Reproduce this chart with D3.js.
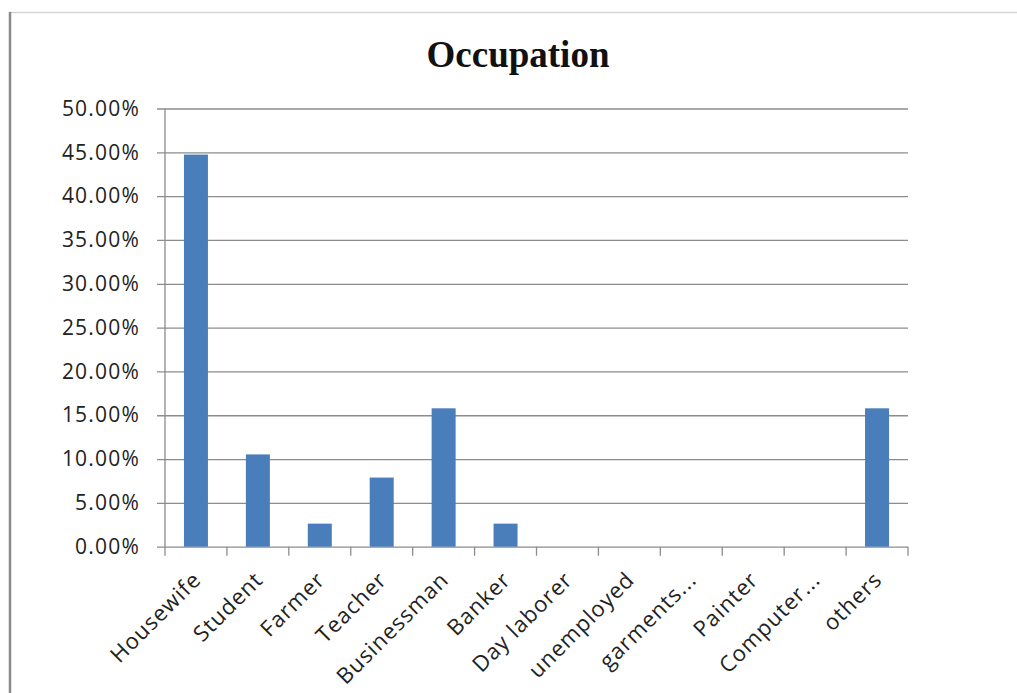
<!DOCTYPE html>
<html>
<head>
<meta charset="utf-8">
<script src="https://cdn.jsdelivr.net/npm/d3@7"></script>
<style>
  html, body { margin: 0; padding: 0; background: #fff; }
  svg { display: block; }
</style>
</head>
<body>
<svg id="chart" width="1017" height="693"></svg>
<script>
// Occupation share of respondents
const categories = ["Housewife", "Student", "Farmer", "Teacher", "Businessman", "Banker",
  "Day laborer", "unemployed", "garments...", "Painter", "Computer...", "others"];
const shares = [0.4474, 0.1053, 0.0263, 0.0789, 0.1579, 0.0263, 0, 0, 0, 0, 0, 0.1579];
const yTicks = [0, 0.05, 0.10, 0.15, 0.20, 0.25, 0.30, 0.35, 0.40, 0.45, 0.50];

const svg = d3.select("#chart");
const W = 1017, H = 693;
const m = { left: 165, right: 908, top: 108.5, bottom: 546.7 };

// frame lines
svg.append("line").attr("x1", 10).attr("x2", W).attr("y1", 12.5).attr("y2", 12.5)
  .attr("stroke", "#d4d4d4").attr("stroke-width", 1.5);
svg.append("line").attr("x1", 10).attr("x2", 10).attr("y1", 12).attr("y2", H)
  .attr("stroke", "#8a8a8a").attr("stroke-width", 2.5);

const x = d3.scaleBand().domain(categories).range([m.left, m.right]).paddingInner(0).paddingOuter(0);
const y = d3.scaleLinear().domain([0, 0.5]).range([m.bottom, m.top]);

const labelFont = "'Open Sans', sans-serif";

// gridlines + y axis labels
const yAxis = d3.axisLeft(y).tickValues(yTicks).tickFormat(d3.format(".2%"))
  .tickSize(-(m.right - m.left) - 8).tickPadding(17);
const gy = svg.append("g").attr("transform", `translate(${m.left - 8},0)`).call(yAxis);
gy.select(".domain").remove();
gy.selectAll(".tick line").attr("stroke", "#8c8c8c").attr("stroke-width", 1.3);
gy.selectAll(".tick text").attr("fill", "#222").style("font-family", labelFont)
  .style("font-size", "21px").style("letter-spacing", "1.2px");

// vertical axis line
svg.append("line").attr("x1", m.left).attr("x2", m.left).attr("y1", m.top).attr("y2", m.bottom)
  .attr("stroke", "#8c8c8c").attr("stroke-width", 1.3);

// bars
const barW = 24;
svg.append("g").selectAll("rect").data(categories).join("rect")
  .attr("x", d => x(d) + x.bandwidth() / 2 - barW / 2)
  .attr("width", barW)
  .attr("y", (d, i) => y(shares[i]))
  .attr("height", (d, i) => y(0) - y(shares[i]))
  .attr("fill", "#4a7ebb");

// category axis with ticks between categories
const boundaries = categories.map(d => x(d)).concat([m.right]);
svg.append("g").selectAll("line").data(boundaries).join("line")
  .attr("x1", d => d).attr("x2", d => d).attr("y1", m.bottom).attr("y2", m.bottom + 9)
  .attr("stroke", "#8c8c8c").attr("stroke-width", 1.3);

svg.append("g").selectAll("text").data(categories).join("text")
  .attr("transform", d => `translate(${x(d) + x.bandwidth() / 2 + 1},${m.bottom + 29}) rotate(-45)`)
  .attr("text-anchor", "end")
  .attr("dy", "0.35em")
  .attr("fill", "#222")
  .style("font-family", labelFont)
  .style("font-size", "22px")
  .style("letter-spacing", "1px")
  .text(d => d);

// title
svg.append("text").attr("x", 518).attr("y", 66.5).attr("text-anchor", "middle")
  .style("font-family", "'Liberation Serif', 'Times New Roman', serif")
  .style("font-weight", "bold").style("font-size", "37px").attr("fill", "#111")
  .text("Occupation");
</script>
</body>
</html>
